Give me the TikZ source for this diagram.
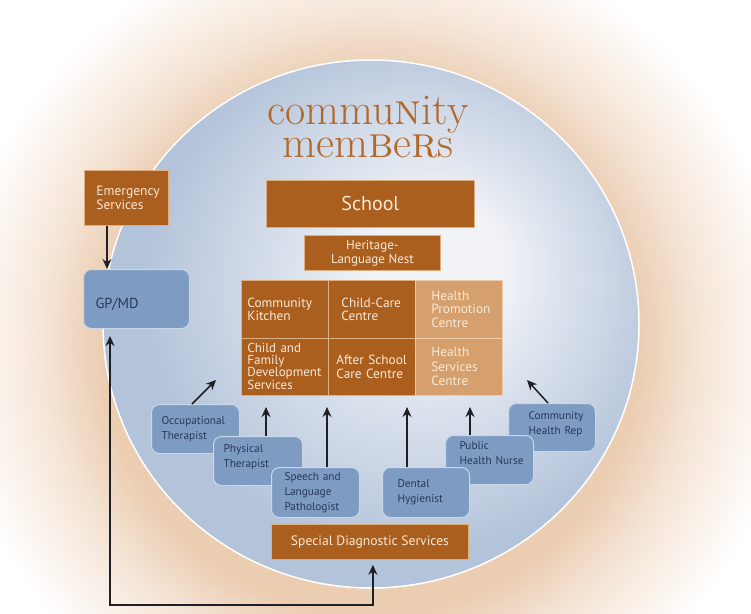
\documentclass[tikz,border=0pt]{standalone}
\usepackage{fontspec}
\newfontfamily\labfont{PT Sans}
\usetikzlibrary{arrows.meta,calc}
\definecolor{orng}{HTML}{AB5F1F}
\definecolor{tanc}{HTML}{D6A06E}
\definecolor{cream}{HTML}{F8E9D6}
\definecolor{oedge}{HTML}{DDAE80}
\definecolor{tedge}{HTML}{EBCBAA}
\definecolor{bluebox}{HTML}{7E9CC1}
\definecolor{bedge}{HTML}{C9D6E7}
\definecolor{navy}{HTML}{26385A}
\definecolor{peach}{HTML}{EBCDB2}
\definecolor{peachlt}{HTML}{F5E5D7}
\definecolor{circin}{HTML}{F1F3F7}
\definecolor{circout}{HTML}{B3C3DA}
\definecolor{titlec}{HTML}{B26A2C}
\definecolor{arrc}{HTML}{1F1F26}
\pgfdeclareradialshading{glow}{\pgfpoint{0bp}{0bp}}{color(0bp)=(peach); color(16bp)=(peach); color(19.6bp)=(peachlt); color(25bp)=(white); color(50bp)=(white)}
\pgfdeclareradialshading{disc}{\pgfpoint{7bp}{6bp}}{color(0bp)=(circin); color(6bp)=(circin); color(25bp)=(circout); color(50bp)=(circout)}
\begin{document}
\begin{tikzpicture}[x=1pt,y=-1pt,
  orbx/.style={draw=oedge, line width=0.8pt, fill=orng, text=cream, inner sep=0pt, anchor=north west, align=left, font=\labfont\fontsize{13.5}{14}\selectfont},
  tanbx/.style={orbx, fill=tanc, draw=tedge},
  bluebx/.style={draw=bedge, line width=1pt, fill=bluebox, text=navy, rounded corners=8pt, inner sep=0pt, anchor=north west, align=left, font=\labfont\fontsize{11.3}{15}\selectfont},
  sz/.style n args={3}{minimum width=#1pt, minimum height=#2pt, text width=#1pt-2*#3pt},
  arr/.style={draw=arrc, line width=1.5pt, -{Stealth[length=10pt,width=9pt]}},
  dblarr/.style={draw=arrc, line width=1.5pt, {Stealth[length=10pt,width=9pt]}-{Stealth[length=10pt,width=9pt]}},
]
\useasboundingbox (0,0) rectangle (751,613);
\fill[white] (0,0) rectangle (751,613);
\begin{scope}
\clip (0,0) rectangle (751,613);
\shade[shading=glow] (371,345) circle[radius=420pt];
\end{scope}
\shadedraw[shading=disc, draw=white, line width=1.5pt] (371,324) ellipse[x radius=268pt, y radius=264pt];

% title
\node[font=\fontsize{44}{29.5}\selectfont, text=titlec, align=center, inner sep=0pt] (title) at (368,127) {commu\textsc{n}ity\\mem\textsc{b}e\textsc{r}s};

% orange boxes
\node[orbx, sz={84}{55}{12}] (emerg) at (84,170) {Emergency\\Services};
\node[orbx, minimum width=208pt, minimum height=47pt, align=center, font=\labfont\fontsize{20}{22}\selectfont] (school) at (266,180) {School};
\node[orbx, minimum width=136pt, minimum height=35pt, align=center, font=\labfont\fontsize{13}{14}\selectfont] (nest) at (304,235) {Heritage-\\Language~Nest};

\node[orbx, sz={87}{57.5}{6}, font=\labfont\fontsize{13.3}{13.5}\selectfont] (c11) at (241,280) {Community\\Kitchen};
\node[orbx, sz={87}{57.5}{13}, font=\labfont\fontsize{13.3}{13.5}\selectfont] (c12) at (328,280) {Child-Care\\Centre};
\node[tanbx, sz={87}{57.5}{16}, font=\labfont\fontsize{13.3}{13.5}\selectfont] (c13) at (415,280) {Health\\Promotion\\Centre};
\node[orbx, sz={87}{57.5}{6}, font=\labfont\fontsize{13}{11.5}\selectfont] (c21) at (241,337.5) {Child~and\\Family\\Development\\Services};
\node[orbx, sz={87}{57.5}{8}, font=\labfont\fontsize{13.3}{14}\selectfont] (c22) at (328,337.5) {After~School\\Care~Centre};
\node[tanbx, sz={87}{57.5}{16}, font=\labfont\fontsize{13.3}{14.5}\selectfont] (c23) at (415,337.5) {Health\\Services\\Centre};

\node[orbx, minimum width=197pt, minimum height=35pt, align=center, font=\labfont\fontsize{13.6}{14}\selectfont] (sds) at (271,524) {Special Diagnostic Services};

% blue boxes
\node[bluebx, sz={106}{59}{12}, font=\labfont\fontsize{14.5}{16}\selectfont, text height=39pt, text depth=20pt] (gp) at (83,269) {GP/MD};
\node[bluebx, sz={88}{49}{10}] (occ) at (151,404) {Occupational\\Therapist};
\node[bluebx, sz={89}{49}{10}, text height=16.3pt, text depth=32.7pt] (phys) at (213,436) {Physical\\Therapist};
\node[bluebx, sz={88}{50}{13}] (speech) at (271,467) {Speech~and\\Language\\Pathologist};
\node[bluebx, sz={87}{48}{20}, text height=15.5pt, text depth=32.5pt] (comm) at (508,403) {Community\\Health~Rep};
\node[bluebx, sz={88}{49}{14}, text height=14pt, text depth=35pt] (pub) at (445,435) {Public\\Health~Nurse};
\node[bluebx, sz={87}{50}{15}] (dental) at (382,467) {Dental\\Hygienist};

% connector targets
\coordinate (tipline) at (0,407);
\coordinate (occtip) at (216,380);
\coordinate (commtip) at (527,380);
\coordinate (loopc) at (110,598);

% connectors
\draw[arr] ([xshift=23pt]emerg.south west) -- ([xshift=23pt]emerg.south west |- gp.north);
\draw[dblarr] ([xshift=27pt,yshift=-7pt]gp.south west) -- ([xshift=27pt,yshift=-7pt]gp.south west |- loopc) -| ([xshift=3pt,yshift=-5pt]sds.south);
\draw[arr] ([xshift=41pt]occ.north west) -- (occtip);
\draw[arr] ([xshift=53pt]phys.north west) -- ([xshift=53pt]phys.north west |- tipline);
\draw[arr] ([xshift=56pt]speech.north west) -- ([xshift=56pt]speech.north west |- tipline);
\draw[arr] ([xshift=25pt]dental.north west) -- ([xshift=25pt]dental.north west |- tipline);
\draw[arr] ([xshift=25pt]pub.north west) -- ([xshift=25pt]pub.north west |- tipline);
\draw[arr] ([xshift=40pt]comm.north west) -- (commtip);
\end{tikzpicture}
\end{document}
